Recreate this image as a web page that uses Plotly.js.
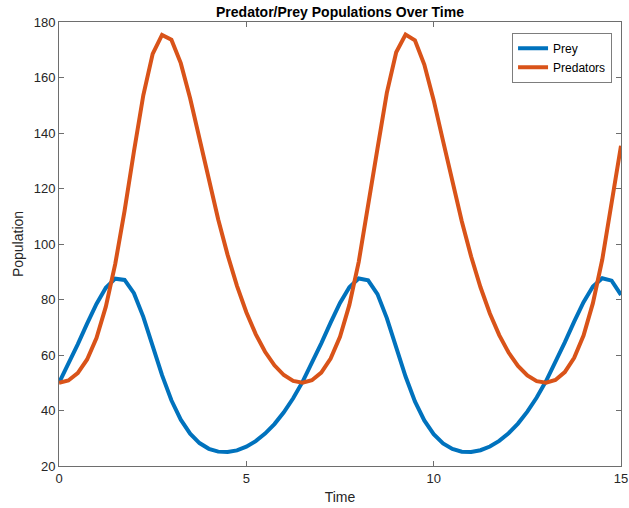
<!DOCTYPE html>
<html>
<head>
<meta charset="utf-8">
<script src="https://cdn.plot.ly/plotly-3.0.1.min.js"></script>
<style>html,body{margin:0;padding:0;background:#fff;}#chart{width:629px;height:508px;}</style>
</head>
<body>
<div id="chart"></div>
<script>
const time = [0,0.25,0.5,0.75,1,1.25,1.5,1.75,2,2.25,2.5,2.75,3,3.25,3.5,3.75,4,4.25,4.5,4.75,5,5.25,5.5,5.75,6,6.25,
  6.5,6.75,7,7.25,7.5,7.75,8,8.25,8.5,8.75,9,9.25,9.5,9.75,10,10.25,10.5,10.75,11,11.25,11.5,11.75,12,12.25,12.5,12.75,
  13,13.25,13.5,13.75,14,14.25,14.5,14.75,15];
const prey = [50,56.62,63.84,71.31,78.42,84.22,87.50,87.05,82.28,73.76,63.22,52.72,43.69,36.69,31.65,28.26,26.19,25.18,25.03,25.64,26.95,28.95,31.66,35.11,39.35,44.41,
  50.30,56.95,64.20,71.67,78.74,84.45,87.58,86.93,81.95,73.29,62.70,52.24,43.30,36.40,31.45,28.13,26.12,25.15,25.04,25.69,27.03,29.06,31.81,35.29,39.57,44.67,
  50.60,57.29,64.55,72.02,79.06,84.68,87.65,86.80,81.62];
const predators = [50,50.82,53.48,58.39,66.14,77.41,92.73,111.92,133.34,153.59,168.54,175.33,173.63,165.18,152.50,137.87,122.97,108.85,96.08,84.91,75.40,67.51,61.16,56.27,52.77,50.65,
  50.00,50.90,53.66,58.69,66.59,78.05,93.56,112.92,134.37,154.47,169.07,175.44,173.37,164.65,151.83,137.15,122.27,108.20,95.50,84.41,74.98,67.17,60.89,56.07,52.64,50.58,
  50.00,50.98,53.84,58.99,67.04,78.68,94.40,113.91,135.41];
const seriesNames = ['Prey','Predators'];
const xTicks = [0,5,10,15];
const yTicks = [20,40,60,80,100,120,140,160,180];

const font = 'Liberation Sans, Arial, Helvetica, sans-serif';
const axisCol = '#262626';
const frameCol = '#6e6e6e';

const traces = [
  {x: time, y: prey, name: seriesNames[0], mode: 'lines', line: {color: '#0072BD', width: 4}},
  {x: time, y: predators, name: seriesNames[1], mode: 'lines', line: {color: '#D95319', width: 4}}
];

const axisCommon = {
  showgrid: false, zeroline: false, showline: true, mirror: 'ticks',
  linecolor: frameCol, linewidth: 1, ticks: 'inside', ticklen: 5, tickwidth: 1, tickcolor: frameCol,
  tickfont: {family: font, size: 13, color: axisCol}
};

const layout = {
  width: 629, height: 508,
  margin: {l: 58.5, r: 7.5, t: 22, b: 42},
  paper_bgcolor: '#fff', plot_bgcolor: '#fff',
  font: {family: font, color: axisCol},
  title: {text: '<b>Predator/Prey Populations Over Time</b>', font: {family: font, size: 14, color: '#000'},
    x: 0.5, xref: 'paper', xanchor: 'center', y: 1, yref: 'paper', yanchor: 'bottom', pad: {b: 5}},
  xaxis: Object.assign({}, axisCommon, {range: [0, 15], tickvals: xTicks, ticktext: xTicks.map(String),
    title: {text: 'Time', font: {family: font, size: 14, color: axisCol}, standoff: 7}}),
  yaxis: Object.assign({}, axisCommon, {range: [20, 180], tickvals: yTicks, ticktext: yTicks.map(String),
    title: {text: 'Population', font: {family: font, size: 14, color: axisCol}, standoff: 6}}),
  legend: {x: 0.983, y: 0.975, xanchor: 'right', yanchor: 'top', bgcolor: '#fff', bordercolor: axisCol, borderwidth: 0.6,
    font: {family: font, size: 12, color: '#000'}, tracegroupgap: 0, itemwidth: 30},
  showlegend: true
};

Plotly.newPlot('chart', traces, layout, {displayModeBar: false, staticPlot: true});
</script>
</body>
</html>
